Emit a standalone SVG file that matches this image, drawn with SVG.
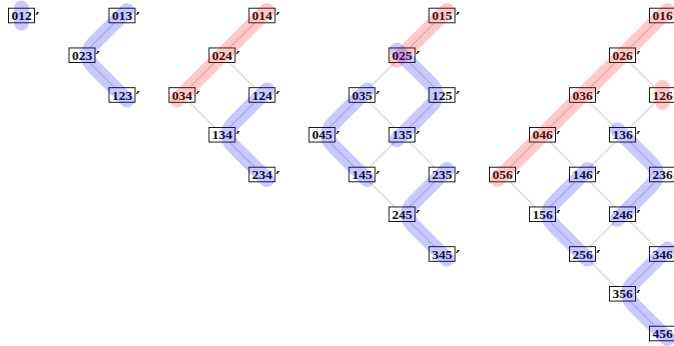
<svg xmlns="http://www.w3.org/2000/svg" width="674" height="346" viewBox="0 0 674 346">
<style>
.e{stroke:#d9d9d9;stroke-width:1.3;fill:none}
rect.bx{fill:#fff;stroke:#000;stroke-width:0.9}
.n text{font-family:"Liberation Serif","DejaVu Serif",serif;font-weight:bold;font-size:13.5px;fill:#111;text-anchor:middle}
.n text.p{font-weight:bold;font-size:16px;text-anchor:start;font-family:"DejaVu Sans","Liberation Sans",sans-serif}
.b{fill:none;stroke:#0000ff;stroke-opacity:0.21;stroke-width:15;stroke-linecap:round;stroke-linejoin:round}
.r{fill:none;stroke:#ff0000;stroke-opacity:0.21;stroke-width:15;stroke-linecap:round;stroke-linejoin:round}
</style>
<defs>
<rect id="box" class="bx" x="-13" y="-7.3" width="26" height="14.6"/>
</defs>
<g id="connectors">
<line class="e" x1="122" y1="15.5" x2="82" y2="55.25"/>
<line class="e" x1="82" y1="55.25" x2="122" y2="95"/>
<line class="e" x1="262" y1="15.5" x2="182" y2="95"/>
<line class="e" x1="222" y1="55.25" x2="262" y2="95"/>
<line class="e" x1="182" y1="95" x2="262" y2="174.5"/>
<line class="e" x1="262" y1="95" x2="222" y2="134.75"/>
<line class="e" x1="442" y1="15.5" x2="322" y2="134.75"/>
<line class="e" x1="442" y1="95" x2="362" y2="174.5"/>
<line class="e" x1="442" y1="174.5" x2="402" y2="214.25"/>
<line class="e" x1="402" y1="55.25" x2="442" y2="95"/>
<line class="e" x1="362" y1="95" x2="442" y2="174.5"/>
<line class="e" x1="322" y1="134.75" x2="442" y2="254"/>
<line class="e" x1="662.5" y1="15.5" x2="502.5" y2="174.5"/>
<line class="e" x1="662.5" y1="95" x2="542.5" y2="214.25"/>
<line class="e" x1="662.5" y1="174.5" x2="582.5" y2="254"/>
<line class="e" x1="662.5" y1="254" x2="622.5" y2="293.75"/>
<line class="e" x1="622.5" y1="55.25" x2="662.5" y2="95"/>
<line class="e" x1="582.5" y1="95" x2="662.5" y2="174.5"/>
<line class="e" x1="542.5" y1="134.75" x2="662.5" y2="254"/>
<line class="e" x1="502.5" y1="174.5" x2="662.5" y2="333.5"/>
</g>
<g id="nodes">
<g id="n012" class="n" transform="translate(21.5,15.5)"><use href="#box"/><text y="4.7">012</text><text class="p" x="13.8" y="8">′</text></g>
<g id="n013" class="n" transform="translate(122,15.5)"><use href="#box"/><text y="4.7">013</text><text class="p" x="13.8" y="8">′</text></g>
<g id="n023" class="n" transform="translate(82,55.25)"><use href="#box"/><text y="4.7">023</text><text class="p" x="13.8" y="8">′</text></g>
<g id="n123" class="n" transform="translate(122,95)"><use href="#box"/><text y="4.7">123</text><text class="p" x="13.8" y="8">′</text></g>
<g id="n014" class="n" transform="translate(262,15.5)"><use href="#box"/><text y="4.7">014</text><text class="p" x="13.8" y="8">′</text></g>
<g id="n024" class="n" transform="translate(222,55.25)"><use href="#box"/><text y="4.7">024</text><text class="p" x="13.8" y="8">′</text></g>
<g id="n034" class="n" transform="translate(182,95)"><use href="#box"/><text y="4.7">034</text><text class="p" x="13.8" y="8">′</text></g>
<g id="n124" class="n" transform="translate(262,95)"><use href="#box"/><text y="4.7">124</text><text class="p" x="13.8" y="8">′</text></g>
<g id="n134" class="n" transform="translate(222,134.75)"><use href="#box"/><text y="4.7">134</text><text class="p" x="13.8" y="8">′</text></g>
<g id="n234" class="n" transform="translate(262,174.5)"><use href="#box"/><text y="4.7">234</text><text class="p" x="13.8" y="8">′</text></g>
<g id="n015" class="n" transform="translate(442,15.5)"><use href="#box"/><text y="4.7">015</text><text class="p" x="13.8" y="8">′</text></g>
<g id="n025" class="n" transform="translate(402,55.25)"><use href="#box"/><text y="4.7">025</text><text class="p" x="13.8" y="8">′</text></g>
<g id="n035" class="n" transform="translate(362,95)"><use href="#box"/><text y="4.7">035</text><text class="p" x="13.8" y="8">′</text></g>
<g id="n125" class="n" transform="translate(442,95)"><use href="#box"/><text y="4.7">125</text><text class="p" x="13.8" y="8">′</text></g>
<g id="n045" class="n" transform="translate(322,134.75)"><use href="#box"/><text y="4.7">045</text><text class="p" x="13.8" y="8">′</text></g>
<g id="n135" class="n" transform="translate(402,134.75)"><use href="#box"/><text y="4.7">135</text><text class="p" x="13.8" y="8">′</text></g>
<g id="n145" class="n" transform="translate(362,174.5)"><use href="#box"/><text y="4.7">145</text><text class="p" x="13.8" y="8">′</text></g>
<g id="n235" class="n" transform="translate(442,174.5)"><use href="#box"/><text y="4.7">235</text><text class="p" x="13.8" y="8">′</text></g>
<g id="n245" class="n" transform="translate(402,214.25)"><use href="#box"/><text y="4.7">245</text><text class="p" x="13.8" y="8">′</text></g>
<g id="n345" class="n" transform="translate(442,254)"><use href="#box"/><text y="4.7">345</text><text class="p" x="13.8" y="8">′</text></g>
<g id="n016" class="n" transform="translate(662.5,15.5)"><use href="#box"/><text y="4.7">016</text><text class="p" x="13.8" y="8">′</text></g>
<g id="n026" class="n" transform="translate(622.5,55.25)"><use href="#box"/><text y="4.7">026</text><text class="p" x="13.8" y="8">′</text></g>
<g id="n036" class="n" transform="translate(582.5,95)"><use href="#box"/><text y="4.7">036</text><text class="p" x="13.8" y="8">′</text></g>
<g id="n126" class="n" transform="translate(662.5,95)"><use href="#box"/><text y="4.7">126</text><text class="p" x="13.8" y="8">′</text></g>
<g id="n046" class="n" transform="translate(542.5,134.75)"><use href="#box"/><text y="4.7">046</text><text class="p" x="13.8" y="8">′</text></g>
<g id="n136" class="n" transform="translate(622.5,134.75)"><use href="#box"/><text y="4.7">136</text><text class="p" x="13.8" y="8">′</text></g>
<g id="n056" class="n" transform="translate(502.5,174.5)"><use href="#box"/><text y="4.7">056</text><text class="p" x="13.8" y="8">′</text></g>
<g id="n146" class="n" transform="translate(582.5,174.5)"><use href="#box"/><text y="4.7">146</text><text class="p" x="13.8" y="8">′</text></g>
<g id="n236" class="n" transform="translate(662.5,174.5)"><use href="#box"/><text y="4.7">236</text><text class="p" x="13.8" y="8">′</text></g>
<g id="n156" class="n" transform="translate(542.5,214.25)"><use href="#box"/><text y="4.7">156</text><text class="p" x="13.8" y="8">′</text></g>
<g id="n246" class="n" transform="translate(622.5,214.25)"><use href="#box"/><text y="4.7">246</text><text class="p" x="13.8" y="8">′</text></g>
<g id="n256" class="n" transform="translate(582.5,254)"><use href="#box"/><text y="4.7">256</text><text class="p" x="13.8" y="8">′</text></g>
<g id="n346" class="n" transform="translate(662.5,254)"><use href="#box"/><text y="4.7">346</text><text class="p" x="13.8" y="8">′</text></g>
<g id="n356" class="n" transform="translate(622.5,293.75)"><use href="#box"/><text y="4.7">356</text><text class="p" x="13.8" y="8">′</text></g>
<g id="n456" class="n" transform="translate(662.5,333.5)"><use href="#box"/><text y="4.7">456</text><text class="p" x="13.8" y="8">′</text></g>
</g>
<g id="highlights">
<path class="b" d="M21.5 8 L21.5 23"/>
<path class="b" d="M127 10.5 L94 43.25 Q82 55.25 94 67.25 L127 100"/>
<path class="r" d="M267 10.5 L177 100"/>
<path class="b" d="M267 90 L234 122.75 Q222 134.75 234 146.75 L267 179.5"/>
<path class="r" d="M447 10.5 L397 60.25"/>
<path class="b" d="M397 50.25 L430 83 Q442 95 430 107 L397 139.75"/>
<path class="b" d="M367 90 L334 122.75 Q322 134.75 334 146.75 L367 179.5"/>
<path class="b" d="M447 169.5 L414 202.25 Q402 214.25 414 226.25 L447 259"/>
<path class="r" d="M667.5 10.5 L497.5 179.5"/>
<path class="r" d="M662.5 87.5 L662.5 102.5"/>
<path class="b" d="M617.5 129.75 L650.5 162.5 Q662.5 174.5 650.5 186.5 L617.5 219.25"/>
<path class="b" d="M587.5 169.5 L554.5 202.25 Q542.5 214.25 554.5 226.25 L587.5 259"/>
<path class="b" d="M667.5 249 L634.5 281.75 Q622.5 293.75 634.5 305.75 L667.5 338.5"/>
</g>
</svg>
